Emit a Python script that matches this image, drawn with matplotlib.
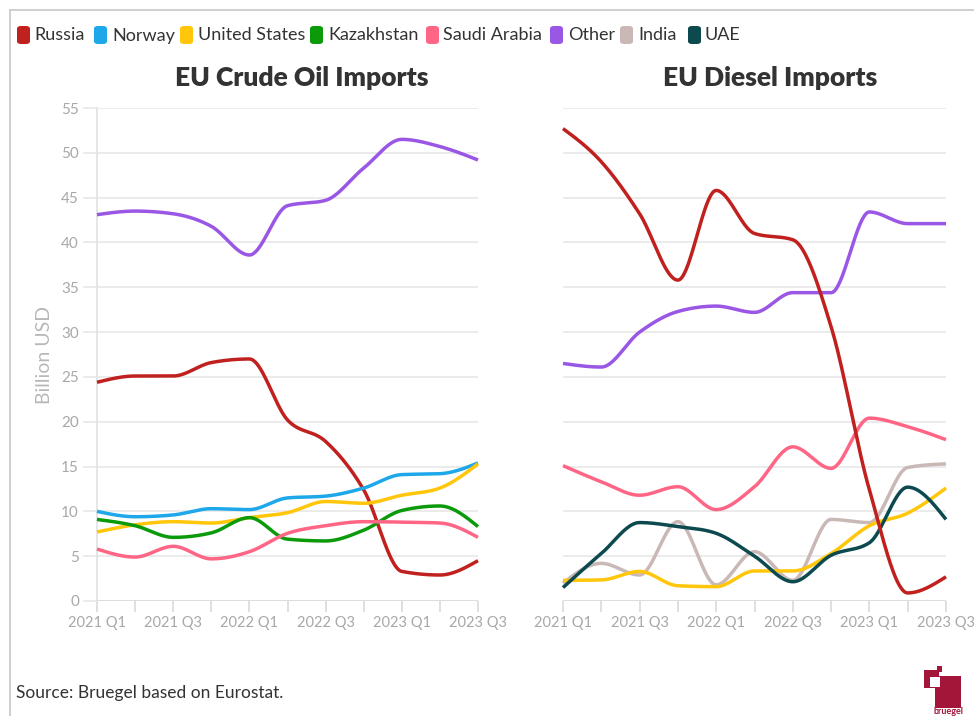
import numpy as np
import matplotlib
matplotlib.use("Agg")
import matplotlib.pyplot as plt
from matplotlib.patches import FancyBboxPatch, Rectangle
from matplotlib.lines import Line2D

plt.rcParams['font.family'] = ['Lato', 'DejaVu Sans']

quarters = ["2021 Q1", "2021 Q2", "2021 Q3", "2021 Q4", "2022 Q1", "2022 Q2",
            "2022 Q3", "2022 Q4", "2023 Q1", "2023 Q2", "2023 Q3"]

# EU Crude Oil Imports (billion USD)
crude_russia = [24.4, 25.1, 25.1, 26.6, 27.0, 20.2, 17.8, 12.4, 3.3, 2.9, 4.5]
crude_norway = [10.0, 9.4, 9.6, 10.3, 10.2, 11.5, 11.7, 12.6, 14.1, 14.2, 15.4]
crude_us = [7.7, 8.5, 8.85, 8.7, 9.3, 9.85, 11.1, 10.9, 11.8, 12.6, 15.3]
crude_kazakhstan = [9.1, 8.4, 7.1, 7.6, 9.3, 6.9, 6.7, 7.9, 10.1, 10.6, 8.3]
crude_saudi = [5.8, 4.9, 6.1, 4.7, 5.5, 7.55, 8.4, 8.85, 8.8, 8.7, 7.1]
crude_other = [43.1, 43.5, 43.2, 41.8, 38.6, 44.1, 44.7, 48.3, 51.5, 50.7, 49.2]

# EU Diesel Imports (billion USD)
diesel_russia = [52.7, 49.0, 43.2, 35.8, 45.8, 41.0, 40.3, 30.6, 12.4, 0.9, 2.7]
diesel_us = [2.3, 2.35, 3.3, 1.7, 1.6, 3.35, 3.35, 5.3, 8.4, 9.8, 12.6]
diesel_saudi = [15.1, 13.3, 11.8, 12.75, 10.2, 12.75, 17.2, 14.8, 20.4, 19.45, 18.0]
diesel_other = [26.5, 26.1, 30.0, 32.3, 32.9, 32.2, 34.4, 34.4, 43.4, 42.1, 42.1]
diesel_india = [2.0, 4.2, 2.9, 8.85, 1.8, 5.5, 2.3, 9.1, 8.75, 14.9, 15.3]
diesel_uae = [1.5, 5.3, 8.75, 8.3, 7.55, 5.0, 2.15, 5.1, 6.5, 12.7, 9.1]

legend_names = ["Russia", "Norway", "United States", "Kazakhstan",
                "Saudi Arabia", "Other", "India", "UAE"]
colors = {
    "Russia": "#c0211f",
    "Norway": "#1ea8ea",
    "United States": "#ffc60a",
    "Kazakhstan": "#0a9a0a",
    "Saudi Arabia": "#ff6584",
    "Other": "#9a57e5",
    "India": "#c9b8b6",
    "UAE": "#0d4a4f",
}

crude_series = [("Other", crude_other), ("Russia", crude_russia), ("Norway", crude_norway),
                ("United States", crude_us), ("Kazakhstan", crude_kazakhstan),
                ("Saudi Arabia", crude_saudi)]
diesel_series = [("Other", diesel_other), ("Saudi Arabia", diesel_saudi),
                 ("India", diesel_india), ("United States", diesel_us),
                 ("UAE", diesel_uae), ("Russia", diesel_russia)]


def monotone_x(x, y, n=40):
    """d3 curveMonotoneX style rendering of a line through the data points."""
    x = np.asarray(x, float)
    y = np.asarray(y, float)
    m = len(x)
    h = np.diff(x)
    s = np.diff(y) / h
    t = np.zeros(m)
    for i in range(1, m - 1):
        s0, s1 = s[i - 1], s[i]
        h0, h1 = h[i - 1], h[i]
        p = (s0 * h1 + s1 * h0) / (h0 + h1)
        t[i] = (np.sign(s0) + np.sign(s1)) * min(abs(s0), abs(s1), 0.5 * abs(p))
    t[0] = (3 * s[0] - t[1]) / 2
    t[-1] = (3 * s[-1] - t[-2]) / 2
    xs, ys = [], []
    for i in range(m - 1):
        u = np.linspace(0, 1, n, endpoint=(i == m - 2))
        h00 = 2 * u**3 - 3 * u**2 + 1
        h10 = u**3 - 2 * u**2 + u
        h01 = -2 * u**3 + 3 * u**2
        h11 = u**3 - u**2
        xs.append(x[i] + u * h[i])
        ys.append(h00 * y[i] + h10 * h[i] * t[i] + h01 * y[i + 1] + h11 * h[i] * t[i + 1])
    return np.concatenate(xs), np.concatenate(ys)


W, H = 974, 716
fig = plt.figure(figsize=(W / 100, H / 100), dpi=100)
fig.patch.set_facecolor("white")


def fx(px):
    return px / W


def fy(py):
    return 1 - py / H


grid_c = "#e9e9e9"
tick_c = "#a8a8a8"

ax1 = fig.add_axes([fx(97), fy(601), fx(478) - fx(97), fy(108) - fy(601)])
ax2 = fig.add_axes([fx(563), fy(601), fx(946) - fx(563), fy(108) - fy(601)])

xi = np.arange(len(quarters))
for ax, series, left in [(ax1, crude_series, True), (ax2, diesel_series, False)]:
    ax.set_xlim(0, len(quarters) - 1)
    ax.set_ylim(0, 55)
    ax.set_facecolor("none")
    for sp in ax.spines.values():
        sp.set_visible(False)
    ax.set_yticks(np.arange(0, 56, 5))
    ax.yaxis.grid(True, color=grid_c, lw=1.3)
    ax.set_axisbelow(True)
    ax.axhline(0, color="#dddddd", lw=1.5, zorder=1)
    ax.set_xticks(xi)
    ax.set_xticklabels([q if i % 2 == 0 else "" for i, q in enumerate(quarters)])
    ax.tick_params(axis="x", length=8, width=1.3, color="#dddddd", labelcolor=tick_c,
                   labelsize=10.5, pad=3)
    if left:
        ax.spines["left"].set_visible(True)
        ax.spines["left"].set_color("#e4e4e4")
        ax.spines["left"].set_linewidth(1.3)
        ax.tick_params(axis="y", length=10, width=1.3, color=grid_c, labelcolor=tick_c,
                       labelsize=11, pad=3)
        ax.set_ylabel("Billion USD", color="#b8b8b8", fontsize=14, labelpad=6)
    else:
        ax.tick_params(axis="y", length=0, labelleft=False)
    for name, vals in series:
        sx, sy = monotone_x(xi, vals)
        ax.plot(sx, sy, color=colors[name], lw=2.5, solid_capstyle="butt", zorder=3,
                clip_on=False)

# Titles
fig.text(fx(302), fy(78), "EU Crude Oil Imports", ha="center", va="center",
         fontsize=19, fontweight="heavy", color="#333333")
fig.text(fx(770), fy(78), "EU Diesel Imports", ha="center", va="center",
         fontsize=19, fontweight="heavy", color="#333333")

# Legend
leg_sq_x = [17, 94, 180, 310, 426, 550, 620, 688]
leg_tx_x = [34, 112, 198, 328, 443, 568, 638, 705]
for name, sx, tx in zip(legend_names, leg_sq_x, leg_tx_x):
    box = FancyBboxPatch((fx(sx), fy(44)), fx(13), fy(26) - fy(44),
                         boxstyle="round,pad=0,rounding_size=0.004",
                         transform=fig.transFigure, facecolor=colors[name],
                         edgecolor="none")
    fig.patches.append(box)
    fig.text(fx(tx), fy(35.5), name, ha="left", va="center", fontsize=13,
             color="#333333")

# Frame lines (top and left)
fig.add_artist(Line2D([fx(9.5), 1], [fy(9.5), fy(9.5)], transform=fig.transFigure,
                      color="#cccccc", lw=1.3))
fig.add_artist(Line2D([fx(9.5), fx(9.5)], [fy(9.5), 0], transform=fig.transFigure,
                      color="#cccccc", lw=1.3))

# Source
fig.text(fx(16), fy(693), "Source: Bruegel based on Eurostat.", ha="left", va="center",
         fontsize=12.5, color="#333333")

# Logo
logo_c = "#a3163a"
fig.patches.append(Rectangle((fx(935), fy(708)), fx(26), fy(676) - fy(708),
                             transform=fig.transFigure, facecolor=logo_c, edgecolor="none"))
fig.patches.append(Rectangle((fx(924), fy(688)), fx(15), fy(670) - fy(688),
                             transform=fig.transFigure, facecolor=logo_c, edgecolor="none"))
fig.patches.append(Rectangle((fx(930), fy(687)), fx(10), fy(677) - fy(687),
                             transform=fig.transFigure, facecolor="white", edgecolor="none"))
fig.patches.append(Rectangle((fx(937), fy(672)), fx(5), fy(666) - fy(672),
                             transform=fig.transFigure, facecolor=logo_c, edgecolor="none"))
fig.text(fx(948), fy(712), "bruegel", ha="center", va="center", fontsize=6.5,
         fontweight="bold", color=logo_c)

fig.savefig("out.png", dpi=100, facecolor="white")
